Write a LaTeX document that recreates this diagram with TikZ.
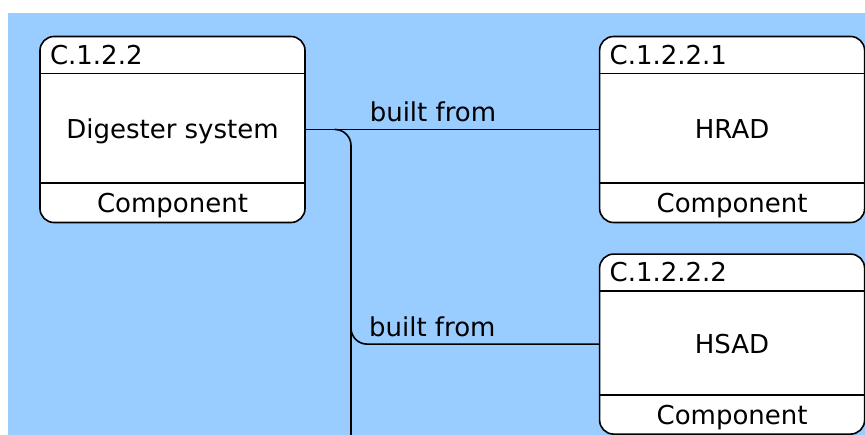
\documentclass[tikz,border=0pt]{standalone}
\usepackage{fontspec}
\setmainfont{DejaVu Sans}
\usetikzlibrary{positioning}
\definecolor{skyblue}{HTML}{99CCFF}

\tikzset{
  comp/.style={draw, fill=white, rounded corners=14pt, minimum width=265pt,
    minimum height=186pt, inner sep=0pt, text height=19pt, text depth=0pt},
  ident/.style={anchor=west, inner sep=0pt, text height=19pt, text depth=0pt},
  kind/.style={inner sep=0pt, text height=19pt, text depth=0pt},
  rel/.style={above=5pt, inner sep=2pt, text depth=0pt},
}

\begin{document}
\begin{tikzpicture}[x=1pt, y=-1pt, line width=1.6pt,
    font=\fontsize{26}{31}\selectfont]
  \useasboundingbox (0,0) rectangle (865,435);
  \fill[white] (0,0) rectangle (865,435);
  \fill[skyblue] (8,13) rectangle (865,435);

  % components
  \node[comp] (dig) at (172.5,129.5) {Digester system};
  \node[comp, right=293pt of dig] (hrad) {HRAD};
  \node[comp, minimum height=180pt, below=30pt of hrad] (hsad) {HSAD};

  % header and footer of each component
  \foreach \b/\id in {dig/C.1.2.2, hrad/C.1.2.2.1, hsad/C.1.2.2.2} {
    \draw ([yshift=-38pt]\b.north west) -- ([yshift=-38pt]\b.north east);
    \draw ([yshift=40pt]\b.south west) -- ([yshift=40pt]\b.south east);
    \node[ident] (\b-id) at ([xshift=10pt,yshift=-19pt]\b.north west) {\id};
    \node[kind] (\b-kind) at ([yshift=20pt]\b.south) {Component};
  }

  % built from links
  \coordinate (fork) at ([xshift=30pt]dig.east);
  \coordinate (tail) at (351,435);
  \coordinate (tee) at (351,250);
  \draw (dig.east) -- node[rel, pos=0.434] (rel1) {built from} (hrad.west);
  \draw[rounded corners=16pt] (fork) -| (tail);
  \draw[rounded corners=16pt] (tee) |- node[rel, pos=0.664] (rel2) {built from} (hsad.west);
\end{tikzpicture}
\end{document}
